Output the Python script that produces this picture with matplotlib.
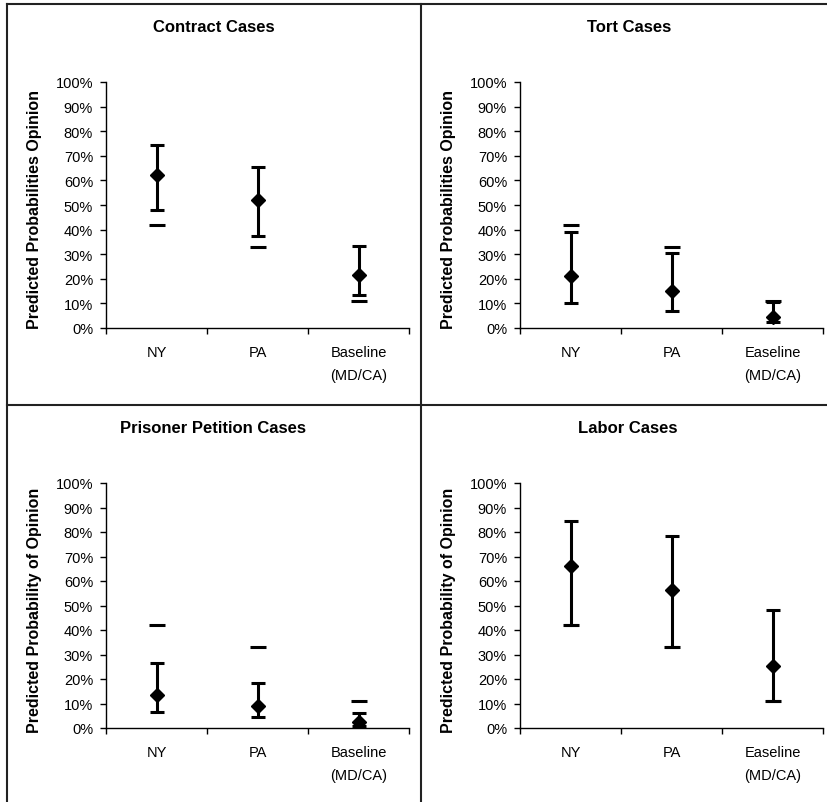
import matplotlib
matplotlib.use("Agg")
import matplotlib.pyplot as plt
from matplotlib.lines import Line2D
from matplotlib.ticker import PercentFormatter
import numpy as np

plt.rcParams['font.family'] = ['Liberation Sans', 'DejaVu Sans']

# values, in percent
cats_left = ["NY", "PA", "Baseline\n(MD/CA)"]
cats_right = ["NY", "PA", "Easeline\n(MD/CA)"]

contract_est = [62, 52, 21.5]
contract_hi = [74.5, 65.5, 33.5]
contract_lo = [48, 37.5, 13.5]

tort_est = [21, 15, 4.5]
tort_hi = [39, 30.5, 10.5]
tort_lo = [10, 7, 2.5]

prisoner_est = [13.5, 9, 2.5]
prisoner_hi = [26.5, 18.5, 6]
prisoner_lo = [6.5, 4.5, 1]

labor_est = [66, 56.5, 25.5]
labor_hi = [84.5, 78.5, 48]
labor_lo = [42, 33, 11]

# stray dashes that show up in every panel
extra_marks = [42, 33, 11]

panels = [
    ("Contract Cases", "Predicted Probabilities Opinion", cats_left, contract_est, contract_hi, contract_lo),
    ("Tort Cases", "Predicted Probabilities Opinion", cats_right, tort_est, tort_hi, tort_lo),
    ("Prisoner Petition Cases", "Predicted Probability of Opinion", cats_left, prisoner_est, prisoner_hi, prisoner_lo),
    ("Labor Cases", "Predicted Probability of Opinion", cats_right, labor_est, labor_hi, labor_lo),
]

W, H = 827, 803
fig = plt.figure(figsize=(W / 100, H / 100), dpi=100)

# axes boxes in pixels: (left, right, top, bottom)
boxes = [(106, 409, 83, 329), (520, 823, 83, 329),
         (106, 409, 484, 729), (520, 823, 484, 729)]
title_pos = [(214, 28), (629, 28), (213, 429), (628, 429)]

for (title, ylab, cats, est, hi, lo), (l, r, t, b), (tx, ty) in zip(panels, boxes, title_pos):
    ax = fig.add_axes([l / W, 1 - b / H, (r - l) / W, (b - t) / H])
    x = np.arange(len(cats))
    est = np.array(est) / 100
    hi = np.array(hi) / 100
    lo = np.array(lo) / 100
    ax.errorbar(x, est, yerr=[est - lo, hi - est], fmt='D', color='black',
                ms=7, elinewidth=2.2, capsize=4.7, capthick=2.2, zorder=3)
    ax.plot(x, np.array(extra_marks) / 100, '_', color='black', ms=11, mew=2.2, zorder=3)

    ax.set_xlim(-0.5, len(cats) - 0.5)
    ax.set_ylim(0, 1)
    ax.set_yticks(np.arange(0, 1.01, 0.1))
    ax.yaxis.set_major_formatter(PercentFormatter(1.0, decimals=0))
    ax.set_xticks(np.arange(-0.5, len(cats), 1.0))
    ax.set_xticklabels([])
    ax.set_xticks(x, minor=True)
    ax.set_xticklabels(cats, minor=True, fontsize=10.5, linespacing=1.85, va='top')
    ax.tick_params(axis='x', which='minor', length=0, pad=12)
    ax.tick_params(axis='x', which='major', direction='out', length=4.3, width=1)
    ax.tick_params(axis='y', direction='out', length=4.3, width=1, labelsize=10.5, pad=5)
    for s in ['top', 'right']:
        ax.spines[s].set_visible(False)
    for s in ['left', 'bottom']:
        ax.spines[s].set_linewidth(1)
    ax.set_ylabel(ylab, fontsize=11.5, fontweight='bold')
    ax.yaxis.set_label_coords(-0.211, 0.485)
    fig.text(tx / W, 1 - ty / H, title, fontsize=12, fontweight='bold', ha='center', va='center')

# chart frames
lc = '#222222'
fig.add_artist(Line2D([7 / W, 1], [1 - 5 / H, 1 - 5 / H], color=lc, lw=1.5))
fig.add_artist(Line2D([7 / W, 7 / W], [0, 1 - 5 / H], color=lc, lw=1.5))
fig.add_artist(Line2D([421 / W, 421 / W], [0, 1 - 5 / H], color=lc, lw=1.5))
fig.add_artist(Line2D([7 / W, 1], [1 - 406 / H, 1 - 406 / H], color=lc, lw=1.5))

fig.savefig("out.png", dpi=100)
